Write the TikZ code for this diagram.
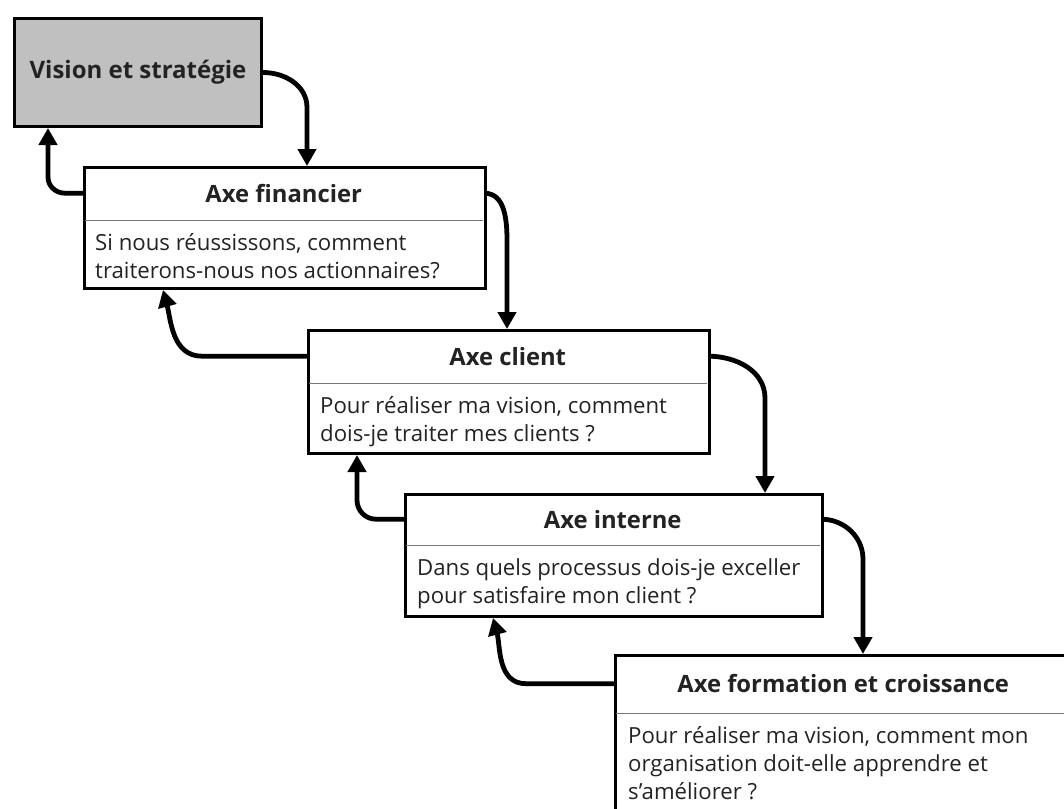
\documentclass[tikz,border=0pt]{standalone}
\usepackage{fontspec}
\setmainfont{Open Sans}
\usetikzlibrary{arrows.meta,calc}
\definecolor{visionfill}{RGB}{192,192,192}
\definecolor{ink}{RGB}{35,35,35}
\definecolor{rule}{RGB}{120,120,120}
\begin{document}
\begin{tikzpicture}[x=1pt,y=1pt,
  box/.style={draw=black, line width=3pt, fill=white, inner sep=0pt, anchor=north west},
  head/.style={inner sep=0pt, anchor=north west, text=ink,
    font=\fontsize{23.8}{28}\selectfont\bfseries},
  body/.style={inner sep=0pt, anchor=base west, align=left, text=ink,
    font=\fontsize{22.2}{28}\selectfont},
  divider/.style={draw=rule, line width=1.6pt, shorten <=1.5pt, shorten >=1.5pt},
  arr/.style={line width=4.8pt, -{Triangle[length=17pt,width=18pt]}}
]
\path[use as bounding box] (0,0) rectangle (1064,-808);
\clip (0,0) rectangle (1064,-808);

% Vision box
\node[box, fill=visionfill, minimum width=247, minimum height=108,
  text=ink, font=\fontsize{24}{28}\selectfont\bfseries] (vis) at (13,-17) {Vision et stratégie};

% Financial axis (body anchored on the baseline of its last line)
\node[box, minimum width=401, minimum height=121] (fin) at (83,-166) {};
\node[head, minimum width=401, minimum height=54] (fint) at (fin.north west) {Axe financier};
\draw[divider] (fint.south west) -- (fint.south east);
\node[body] (finb) at ($(fint.south west)+(12,-58)$)
  {Si nous réussissons, comment\\traiterons-nous nos actionnaires?};

% Customer axis
\node[box, minimum width=401, minimum height=123] (cli) at (307,-329) {};
\node[head, minimum width=401, minimum height=54] (clit) at (cli.north west) {Axe client};
\draw[divider] (clit.south west) -- (clit.south east);
\node[body] (clib) at ($(clit.south west)+(13,-58)$)
  {Pour réaliser ma vision, comment\\dois-je traiter mes clients ?};

% Internal axis
\node[box, minimum width=417, minimum height=122] (int) at (404,-493) {};
\node[head, minimum width=417, minimum height=52] (intt) at (int.north west) {Axe interne};
\draw[divider] (intt.south west) -- (intt.south east);
\node[body] (intb) at ($(intt.south west)+(13,-58)$)
  {Dans quels processus dois-je exceller\\pour satisfaire mon client ?};

% Learning and growth axis
\node[box, minimum width=458, minimum height=185] (frm) at (614,-654) {};
\node[head, minimum width=458, minimum height=59] (frmt) at (frm.north west) {Axe formation et croissance};
\draw[divider] (frmt.south west) -- (frmt.south east);
\node[body] (frmb) at ($(frmt.south west)+(14,-86)$)
  {Pour réaliser ma vision, comment mon\\organisation doit-elle apprendre et\\s’améliorer ?};

% Downward links
\coordinate (d1) at ($(fin.north west)+(224,0)$);
\coordinate (d2) at ($(cli.north west)+(200,0)$);
\coordinate (d3) at ($(int.north west)+(361,0)$);
\coordinate (d4) at ($(frm.north west)+(249,0)$);
\draw[arr] (vis.east) to[out=0,in=90] ($(vis.east -| d1)+(0,-35)$) -- (d1);
\draw[arr] (fint.east) to[out=0,in=90] ($(fint.east -| d2)+(0,-48)$) -- (d2);
\draw[arr] (clit.east) to[out=0,in=90] ($(clit.east -| d3)+(0,-42)$) -- (d3);
\draw[arr] (intt.east) to[out=0,in=90] ($(intt.east -| d4)+(0,-40)$) -- (d4);

% Upward links
\coordinate (u1) at ($(vis.south west)+(35,0)$);
\coordinate (u2) at ($(fin.south west)+(80,0)$);
\coordinate (u3) at ($(cli.south west)+(50,0)$);
\coordinate (u4) at ($(int.south west)+(89,0)$);
\draw[arr] (fint.west) -- ++(-18,0) to[out=180,in=-90] ($(fint.west -| u1)+(0,16)$) -- (u1);
\draw[arr] (clit.west) -- ++(-105,0) to[out=180,in=-75] (u2);
\draw[arr] (intt.west) -- ++(-28,0) to[out=180,in=-90] ($(intt.west -| u3)+(0,19)$) -- (u3);
\draw[arr] (frmt.west) -- ++(-88,0) to[out=180,in=-75] (u4);
\end{tikzpicture}
\end{document}
